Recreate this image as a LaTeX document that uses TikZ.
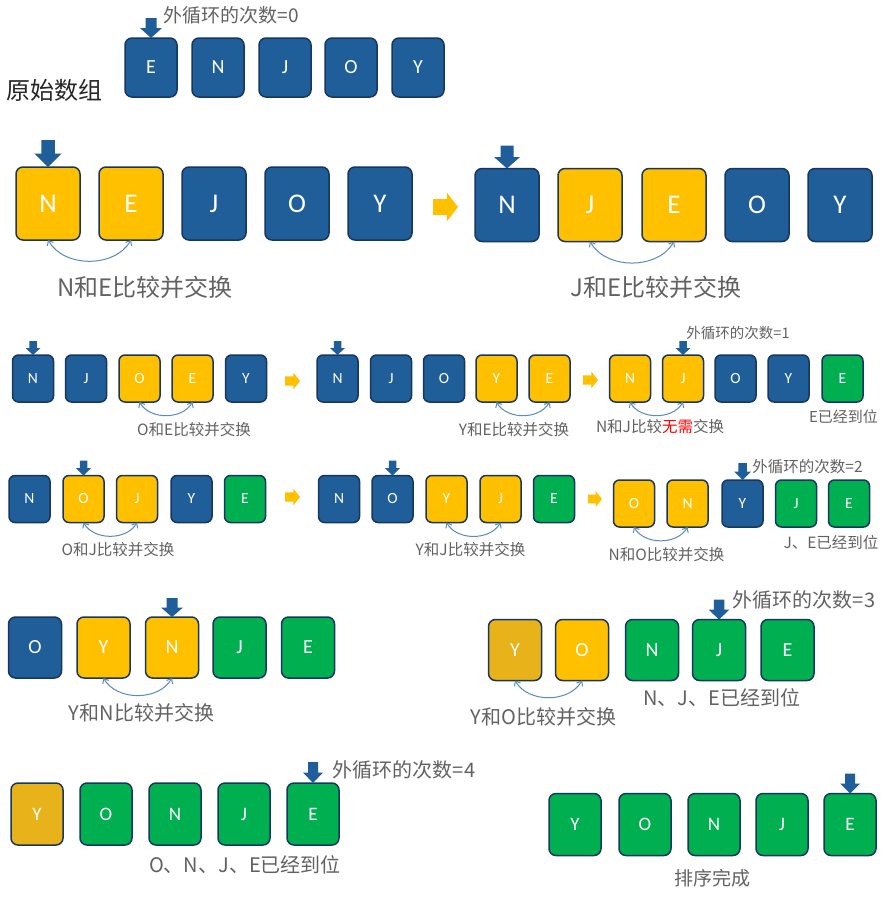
\documentclass[tikz,border=0pt]{standalone}
\usepackage{fontspec}
\setmainfont{Carlito}
\newfontfamily\cjk{Noto Sans CJK SC}
\usetikzlibrary{arrows.meta}
\definecolor{boxblue}{HTML}{1F5E99}
\definecolor{navy}{HTML}{17375E}
\definecolor{boxyel}{HTML}{FFC000}
\definecolor{boxgrn}{HTML}{00B050}
\definecolor{boxgold}{HTML}{E8B21B}
\definecolor{connc}{HTML}{5A8AC0}
\definecolor{labgray}{HTML}{626262}
\definecolor{ptrc}{HTML}{1F5E99}
\newcommand{\ptr}[3]{\fill[ptrc] (#1.north) -- ++({-#3/2},{#2*0.5}) -- ++({#3/4},0) -- ++(0,{#2*0.5}) -- ++({#3/2},0) -- ++(0,{-#2*0.5}) -- ++({#3/4},0) -- cycle;}
\newcommand{\rarr}[4]{\fill[boxyel] (#1,{#2+#4*0.27}) -- ++({#3*0.55},0) -- ++(0,{#4*0.23}) -- ({#1+#3},#2) -- ({#1+#3*0.55},{#2-#4/2}) -- ++(0,{#4*0.23}) -- (#1,{#2-#4*0.27}) -- cycle;}
\tikzset{
  bx/.style={draw=navy, line width=1.5pt, rounded corners=7pt, text=white, inner sep=0pt, outer sep=0pt},
  blu/.style={bx, fill=boxblue},
  yel/.style={bx, fill=boxyel},
  grn/.style={bx, fill=boxgrn},
  gld/.style={bx, fill=boxgold},
  sz0/.style={minimum width=52pt, minimum height=59pt, font=\fontsize{20}{20}\selectfont},
  sz1/.style={minimum width=64pt, minimum height=73pt, font=\fontsize{27}{27}\selectfont},
  sz2/.style={minimum width=41pt, minimum height=47pt, rounded corners=6pt, font=\fontsize{15.5}{15.5}\selectfont},
  sz4/.style={minimum width=53pt, minimum height=61pt, font=\fontsize{20}{20}\selectfont},
  sz5/.style={minimum width=52pt, minimum height=62pt, font=\fontsize{19}{19}\selectfont},
  conn/.style={draw=connc, line width=1pt, {Straight Barb[length=4pt,width=7pt]}-{Straight Barb[length=4pt,width=7pt]}},
  lbl/.style={text=labgray, inner sep=0pt, font=\cjk\fontsize{#1}{#1}\selectfont},
}
\begin{document}
\begin{tikzpicture}[x=1pt,y=1pt]
\useasboundingbox (0,0) rectangle (888,-902);
\fill[white] (0,0) rectangle (888,-902);

% ---------- row 0 ----------
\node[blu,sz0] (a1) at (151,-67.5) {E};
\node[blu,sz0] (a2) at (218,-67.5) {N};
\node[blu,sz0] (a3) at (285,-67.5) {J};
\node[blu,sz0] (a4) at (351,-67.5) {O};
\node[blu,sz0] (a5) at (418,-67.5) {Y};
\ptr{a1}{20}{22}
\node[lbl=19] (ta) at (231,-15) {外循环的次数=0};
\node[lbl=24, text=black!85] (orig) at (54,-90) {原始数组};

% ---------- row 1 ----------
\node[yel,sz1] (b1) at (48,-203.5) {N};
\node[yel,sz1] (b2) at (131,-203.5) {E};
\node[blu,sz1] (b3) at (214,-203.5) {J};
\node[blu,sz1] (b4) at (297,-203.5) {O};
\node[blu,sz1] (b5) at (380,-203.5) {Y};
\ptr{b1}{27}{27}
\draw[conn] (b1.south) to[out=-60,in=-120] (b2.south);
\node[lbl=24] (tb) at (145,-287) {N和E比较并交换};
\rarr{433}{-207}{25}{29}
\node[blu,sz1] (c1) at (507,-205) {N};
\node[yel,sz1] (c2) at (590,-205) {J};
\node[yel,sz1] (c3) at (674,-205) {E};
\node[blu,sz1] (c4) at (757,-205) {O};
\node[blu,sz1] (c5) at (840,-205) {Y};
\ptr{c1}{23}{26}
\draw[conn] (c2.south) to[out=-60,in=-120] (c3.south);
\node[lbl=24] (tc) at (656,-287) {J和E比较并交换};

% ---------- row 2 ----------
\node[blu,sz2] (d1) at (33,-378.5) {N};
\node[blu,sz2] (d2) at (86,-378.5) {J};
\node[yel,sz2] (d3) at (139.5,-378.5) {O};
\node[yel,sz2] (d4) at (192.5,-378.5) {E};
\node[blu,sz2] (d5) at (246,-378.5) {Y};
\ptr{d1}{14}{15}
\draw[conn] (d3.south) to[out=-60,in=-120] (d4.south);
\node[lbl=15.5] (td) at (194,-430) {O和E比较并交换};
\rarr{285}{-381}{15}{17}
\node[blu,sz2] (e1) at (337.5,-378.5) {N};
\node[blu,sz2] (e2) at (391,-378.5) {J};
\node[blu,sz2] (e3) at (444,-378.5) {O};
\node[yel,sz2] (e4) at (496.5,-378.5) {Y};
\node[yel,sz2] (e5) at (549.5,-378.5) {E};
\ptr{e1}{14}{15}
\draw[conn] (e4.south) to[out=-60,in=-120] (e5.south);
\node[lbl=15.5] (te) at (514,-430) {Y和E比较并交换};
\rarr{583}{-380}{15}{17}
\node[yel,sz2] (f1) at (630,-378.5) {N};
\node[yel,sz2] (f2) at (683,-378.5) {J};
\node[blu,sz2] (f3) at (735.5,-378.5) {O};
\node[blu,sz2] (f4) at (788.5,-378.5) {Y};
\node[grn,sz2] (f5) at (842.5,-378.5) {E};
\ptr{f2}{14}{15}
\draw[conn] (f1.south) to[out=-60,in=-120] (f2.south);
\node[lbl=14.5] (tf) at (738,-333) {外循环的次数=1};
\node[lbl=15.5] (tf2) at (660,-427) {N和J比较{\color{red}无需}交换};
\node[lbl=15] (tf3) at (843.5,-417) {E已经到位};

% ---------- row 3 ----------
\node[blu,sz2] (g1) at (29.5,-499) {N};
\node[yel,sz2] (g2) at (83.5,-499) {O};
\node[yel,sz2] (g3) at (137,-499) {J};
\node[blu,sz2] (g4) at (191.5,-499) {Y};
\node[grn,sz2] (g5) at (245,-499) {E};
\ptr{g2}{15}{15}
\draw[conn] (g2.south) to[out=-60,in=-120] (g3.south);
\node[lbl=15.5] (tg) at (118,-550) {O和J比较并交换};
\rarr{285}{-497}{15}{17}
\node[blu,sz2] (h1) at (339,-499) {N};
\node[blu,sz2] (h2) at (392.5,-499) {O};
\node[yel,sz2] (h3) at (446.5,-499) {Y};
\node[yel,sz2] (h4) at (500.5,-499) {J};
\node[grn,sz2] (h5) at (554,-499) {E};
\ptr{h2}{15}{15}
\draw[conn] (h3.south) to[out=-60,in=-120] (h4.south);
\node[lbl=15.5] (th) at (470.5,-550) {Y和J比较并交换};
\rarr{588}{-499}{14}{16}
\node[yel,sz2] (i1) at (634,-503.5) {O};
\node[yel,sz2] (i2) at (687.5,-503.5) {N};
\node[blu,sz2] (i3) at (742.5,-503.5) {Y};
\node[grn,sz2] (i4) at (796,-503.5) {J};
\node[grn,sz2] (i5) at (849,-503.5) {E};
\ptr{i3}{17}{17}
\draw[conn] (i1.south) to[out=-60,in=-120] (i2.south);
\node[lbl=15.5] (ti) at (807.5,-467) {外循环的次数=2};
\node[lbl=15.5] (ti2) at (666.5,-555) {N和O比较并交换};
\node[lbl=15.5] (ti3) at (831,-543) {J、E已经到位};

% ---------- row 4 ----------
\node[blu,sz4] (j1) at (35,-647.5) {O};
\node[yel,sz4] (j2) at (103.5,-647.5) {Y};
\node[yel,sz4] (j3) at (172,-647.5) {N};
\node[grn,sz4] (j4) at (239.5,-647.5) {J};
\node[grn,sz4] (j5) at (308,-647.5) {E};
\ptr{j3}{19}{22}
\draw[conn] (j2.south) to[out=-60,in=-120] (j3.south);
\node[lbl=20] (tj) at (141.5,-713) {Y和N比较并交换};
\node[gld,sz4] (k1) at (515,-650) {Y};
\node[yel,sz4] (k2) at (582,-650) {O};
\node[grn,sz4] (k3) at (652,-650) {N};
\node[grn,sz4] (k4) at (719,-650) {J};
\node[grn,sz4] (k5) at (787.5,-650) {E};
\ptr{k4}{20}{21}
\draw[conn] (k1.south) to[out=-60,in=-120] (k2.south);
\node[lbl=20] (tk) at (804,-600) {外循环的次数=3};
\node[lbl=20] (tk2) at (543.5,-717) {Y和O比较并交换};
\node[lbl=20] (tk3) at (722,-698) {N、J、E已经到位};

% ---------- row 5 ----------
\node[gld,sz5] (l1) at (37,-814) {Y};
\node[grn,sz5] (l2) at (106,-814) {O};
\node[grn,sz5] (l3) at (175,-814) {N};
\node[grn,sz5] (l4) at (244,-814) {J};
\node[grn,sz5] (l5) at (313,-814) {E};
\ptr{l5}{21}{20}
\node[lbl=20] (tl) at (404,-770) {外循环的次数=4};
\node[lbl=20] (tl2) at (245,-865) {O、N、J、E已经到位};
\node[grn,sz5] (m1) at (575,-824.5) {Y};
\node[grn,sz5] (m2) at (645,-824.5) {O};
\node[grn,sz5] (m3) at (714,-824.5) {N};
\node[grn,sz5] (m4) at (782,-824.5) {J};
\node[grn,sz5] (m5) at (850,-824.5) {E};
\ptr{m5}{20}{20}
\node[lbl=19] (tm) at (712.5,-878) {排序完成};
\end{tikzpicture}
\end{document}
